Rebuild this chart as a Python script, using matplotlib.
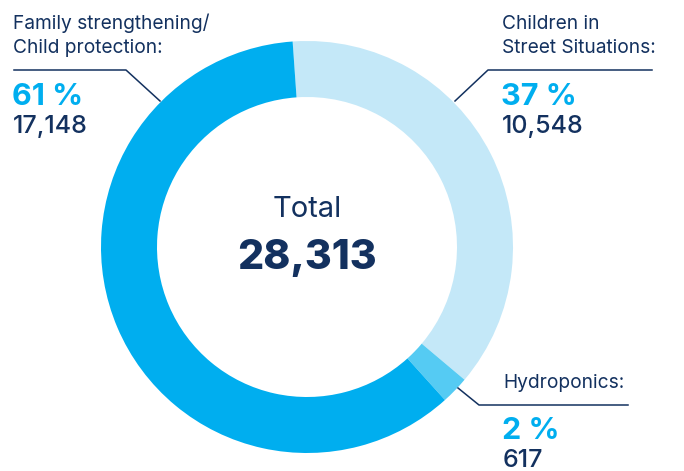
import matplotlib.pyplot as plt

plt.rcParams['font.family'] = ['Inter', 'DejaVu Sans']

# data
labels = ["Children in\nStreet Situations:", "Hydroponics:", "Family strengthening/\nChild protection:"]
values = [10548, 617, 17148]
percents = ["37 %", "2 %", "61 %"]
counts = ["10,548", "617", "17,148"]
colors = ["#c4e8f8", "#55cbf3", "#00aeef"]
total_label = "28,313"

navy = "#13315f"
cyan = "#00aeef"

W, H = 684, 471
fig = plt.figure(figsize=(W / 100, H / 100), dpi=100)
ax = fig.add_axes([0, 0, 1, 1])


def Y(py):
    # pixel row (from top) -> data y
    return H - py


ax.pie(values, colors=colors, startangle=94, counterclock=False,
       center=(307, Y(247)), radius=206,
       wedgeprops=dict(width=56, linewidth=0), frame=True)
ax.set_xlim(0, W)
ax.set_ylim(0, H)
ax.set_aspect("equal")
ax.axis("off")

# centre text
ax.text(307, Y(217), "Total", ha="center", va="baseline", fontsize=21, color=navy)
ax.text(307, Y(269), total_label, ha="center", va="baseline", fontsize=29.5,
        fontweight="heavy", color=navy)

# label blocks: (x, baseline rows for name lines, pct, count)
blocks = [
    (502, [29, 53], 105, 133),
    (503, [388], 439, 467),
    (13, [29, 53], 105, 133),
]
for (x, name_rows, pct_row, cnt_row), lab, pct, cnt in zip(blocks, labels, percents, counts):
    for row, line in zip(name_rows, lab.split("\n")):
        ax.text(x, Y(row), line, ha="left", va="baseline", fontsize=13.8, color=navy)
    ax.text(x - 1, Y(pct_row), pct, ha="left", va="baseline", fontsize=22,
            fontweight="bold", color=cyan)
    ax.text(x, Y(cnt_row), cnt, ha="left", va="baseline", fontsize=18,
            fontweight="medium", color=navy)

# leader lines
leaders = [
    [(455, 101), (488, 70), (652, 70)],
    [(458, 388), (479, 405), (628, 405)],
    [(160, 101), (126, 70), (14, 70)],
]
for pts in leaders:
    xs = [p[0] for p in pts]
    ys = [Y(p[1]) for p in pts]
    ax.plot(xs, ys, color=navy, lw=1.1)

fig.savefig("out.png", dpi=100)
